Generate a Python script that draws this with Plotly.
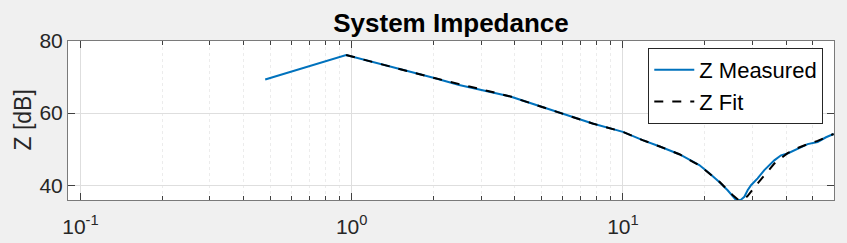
import plotly.graph_objects as go
import math

# ---- data ----
freq_meas = [0.48, 0.954, 2.0, 2.49, 3.81, 5.83, 7.73, 10.0, 11.82, 13.6, 16.14, 17.57,
             19.12, 20.83, 22.66, 24.32, 25.37, 26.12, 27.25, 28.03, 28.82, 29.67, 31.37,
             33.21, 36.15, 38.26, 40.46, 44.06, 47.96, 52.2, 56.07, 59.8]
z_meas = [69.3, 76.1, 69.8, 67.8, 64.7, 60.1, 57.1, 54.8, 52.5, 50.8, 48.6, 47.1,
          45.6, 43.3, 40.9, 38.6, 36.8, 35.9, 36.0, 36.8, 38.6, 40.0, 41.9,
          44.2, 46.9, 48.3, 48.8, 50.2, 51.4, 52.0, 53.3, 54.2]

freq_fit = [0.954, 2.0, 3.81, 5.83, 7.73, 10.0, 11.82, 13.6, 16.14, 19.12, 22.66, 25.37,
            26.6, 27.7, 28.8, 30.5, 33.2, 36.15, 40.46, 44.06, 47.96, 52.2, 56.07, 59.8]
z_fit = [76.1, 69.8, 64.7, 60.1, 57.1, 54.8, 52.5, 50.8, 48.6, 45.5, 41.0, 37.3,
         36.0, 35.9, 37.0, 39.4, 42.8, 46.0, 48.9, 50.3, 51.4, 52.3, 53.3, 54.2]

x_tick_vals = [0.1, 1, 10]
x_tick_text = ["10<sup>-1</sup>", "10<sup>0</sup>", "10<sup>1</sup>"]
y_tick_vals = [40, 60, 80]

FONT = "Liberation Sans, Arial, sans-serif"
TXT = "#262626"

fig = go.Figure()
fig.add_trace(go.Scatter(x=freq_meas, y=z_meas, mode="lines", name="Z Measured",
                         line=dict(color="#0072BD", width=2)))
fig.add_trace(go.Scatter(x=freq_fit, y=z_fit, mode="lines", name="Z Fit",
                         line=dict(color="black", width=2, dash="dash")))

minor_vals = [k * 10 ** e for e in (-2, -1, 0, 1) for k in range(2, 10)]

fig.update_xaxes(type="log", range=[math.log10(0.09), math.log10(60)],
                 tickvals=x_tick_vals, ticktext=x_tick_text, automargin=False,
                 ticks="inside", ticklen=7, tickcolor="#404040", tickwidth=1,
                 showline=True, linecolor="#7a7a7a", linewidth=1, mirror="ticks",
                 showgrid=True, gridcolor="#dedede", gridwidth=1, zeroline=False,
                 ticklabelstandoff=8,
                 tickfont=dict(family=FONT, size=21, color=TXT),
                 minor=dict(tickvals=minor_vals, ticks="inside", ticklen=4,
                            tickcolor="#404040", showgrid=True,
                            gridcolor="#ececec", griddash="dot"))
fig.update_yaxes(range=[35.9, 80], tickvals=y_tick_vals, automargin=False,
                 ticks="inside", ticklen=7, tickcolor="#404040", tickwidth=1,
                 showline=True, linecolor="#7a7a7a", linewidth=1, mirror="ticks",
                 showgrid=True, gridcolor="#dedede", gridwidth=1, zeroline=False,
                 tickfont=dict(family=FONT, size=21, color=TXT))

fig.add_annotation(text="Z [dB]", xref="paper", yref="paper", x=-0.060, y=0.5,
                   textangle=-90, showarrow=False, xanchor="center", yanchor="middle",
                   font=dict(family=FONT, size=23, color=TXT))

fig.update_layout(
    width=847, height=243,
    margin=dict(l=68, r=13, t=41, b=43, autoexpand=False),
    paper_bgcolor="#f0f0f0", plot_bgcolor="white",
    title=dict(text="<b>System Impedance</b>", x=0.5, xref="paper", xanchor="center",
               y=1 - 23 / 243, yref="container", yanchor="middle",
               font=dict(family=FONT, size=26, color="black")),
    legend=dict(x=0.986, y=0.956, xanchor="right", yanchor="top",
                bgcolor="white", bordercolor="#262626", borderwidth=1,
                font=dict(family=FONT, size=22, color="black"),
                itemwidth=40, tracegroupgap=0),
    showlegend=True,
)

fig.write_html("out.html")
